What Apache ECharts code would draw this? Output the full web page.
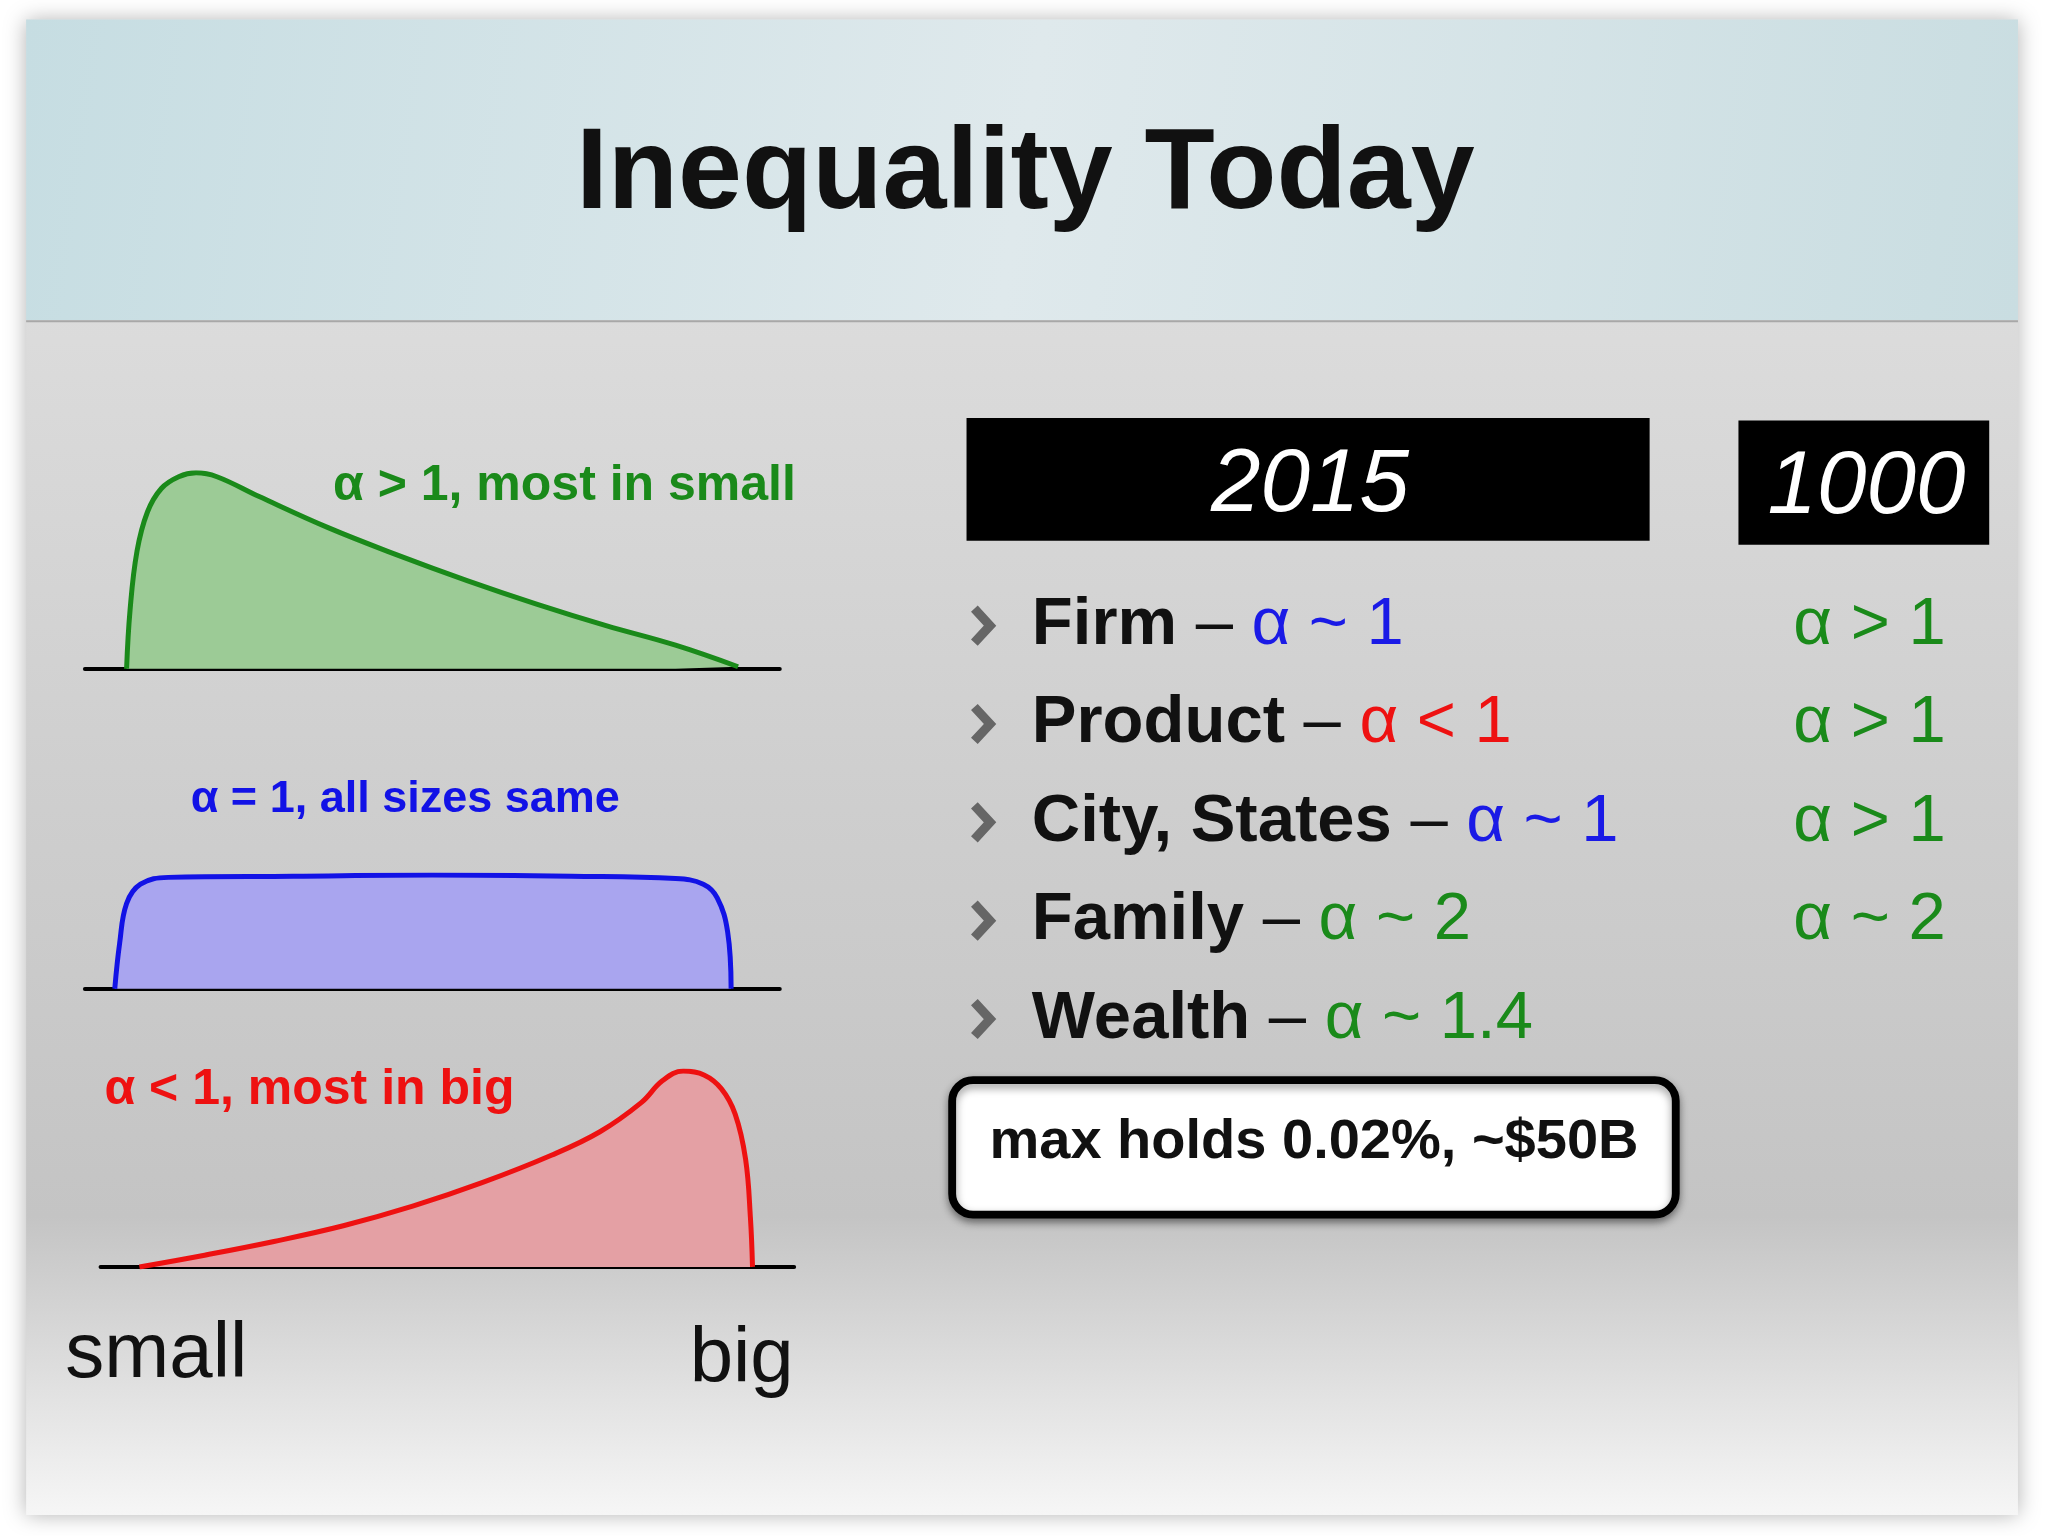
<!DOCTYPE html>
<html><head><meta charset="utf-8">
<script src="https://cdn.jsdelivr.net/npm/echarts@6/dist/echarts.min.js"></script>
<style>html,body{margin:0;padding:0;background:#fff}#c{width:2048px;height:1536px}</style>
</head><body><div id="c"></div>
<script>
const greenCurve=[[6,0],[6.5,30],[7.5,60],[9,80],[11,92],[13.5,98],[16,100],[19,98],[25,88],[35,72],[45,58],[55,45],[65,33],[75,22],[85,12],[94,1]];
const blueCurve=[[4.3,0],[5,40],[6,75],[8,92],[12,98],[30,99],[50,100],[70,99],[85,97],[89,92],[91,80],[92.5,50],[93,0]];
const redCurve=[[5.6,0],[15,6],[25,13],[35,21],[45,31],[55,43],[65,57],[72,69],[78,84],[81,95],[84,100],[87,98],[89.5,91],[91.5,78],[93,55],[93.7,25],[94,0]];
const rowNames=['Firm','Product','City, States','Family','Wealth'];
const rowAlpha2015=['α ~ 1','α < 1','α ~ 1','α ~ 2','α ~ 1.4'];
const rowColors=['#1a1ae6','#ee1111','#1a1ae6','#1a8a1a','#1a8a1a'];
const rowAlpha1000=['α > 1','α > 1','α > 1','α ~ 2'];
const S=2048/1568;
const F='Liberation Sans, Arial, sans-serif';
const ch=echarts.init(document.getElementById('c'));
const grids=[[65,597,362,512],[65,597,670,757],[77,608,820,970]];
const curves=[greenCurve,blueCurve,redCurve];
const lc=['#1a8a1a','#1212e6','#ee1111'],fc=['#9ccb96','#a9a5ef','#e4a0a4'];
const g=[];
g.push({type:'rect',shape:{x:0,y:0,width:2048,height:1536},style:{fill:'#fff'},z:-10});
g.push({type:'rect',shape:{x:20*S,y:15*S,width:1525*S,height:1145*S},style:{fill:new echarts.graphic.LinearGradient(0,0,0,1,[{offset:0,color:'#e4e4e4'},{offset:0.5,color:'#cfcfcf'},{offset:0.8,color:'#c4c4c4'},{offset:1,color:'#f6f6f6'}]),shadowBlur:20,shadowColor:'rgba(0,0,0,0.3)'},z:-9});
g.push({type:'rect',shape:{x:20*S,y:15*S,width:1525*S,height:230*S},style:{fill:new echarts.graphic.LinearGradient(0,0,1,1,[{offset:0,color:'#c6dde2'},{offset:0.5,color:'#dfe9ec'},{offset:1,color:'#c9dde1'}])},z:-8});
g.push({type:'line',shape:{x1:20*S,y1:246*S,x2:1545*S,y2:246*S},style:{stroke:'#a8a8a8',lineWidth:2},z:-7});
g.push({type:'text',x:785*S,y:135*S,style:{text:'Inequality Today',font:'bold '+Math.round(88*S)+'px '+F,fill:'#111',align:'center',verticalAlign:'middle'}});
function t(x,y,text,size,color,bold,align){g.push({type:'text',x:x*S,y:y*S,style:{text:text,font:(bold?'bold ':'')+Math.round(size*S)+'px '+F,fill:color,align:align||'left',verticalAlign:'middle'}});}
t(255,372,'α > 1, most in small',38.5,'#1a8a1a',true);
t(146,612,'α = 1, all sizes same',34.5,'#1212e6',true);
t(80,835,'α < 1, most in big',38.5,'#ee1111',true);
t(50,1038,'small',60,'#111',false);
t(528,1042,'big',60,'#111',false);
g.push({type:'rect',shape:{x:740*S,y:320*S,width:523*S,height:94*S},style:{fill:'#000'}});
g.push({type:'rect',shape:{x:1331*S,y:322*S,width:192*S,height:95*S},style:{fill:'#000'}});
g.push({type:'text',x:1003*S,y:372*S,style:{text:'2015',font:'italic '+Math.round(68*S)+'px '+F,fill:'#fff',align:'center',verticalAlign:'middle'}});
g.push({type:'text',x:1429*S,y:374*S,style:{text:'1000',font:'italic '+Math.round(68*S)+'px '+F,fill:'#fff',align:'center',verticalAlign:'middle'}});
rowNames.forEach((n,i)=>{
  const y=(479+i*75.3)*S;
  g.push({type:'polyline',shape:{points:[[746*S,y-13*S],[758*S,y],[746*S,y+13*S]]},style:{stroke:'#666',lineWidth:7*S,fill:null}});
  g.push({type:'text',x:790*S,y:y,style:{text:'{b|'+n+'}{n| – }{c|'+rowAlpha2015[i]+'}',verticalAlign:'middle',rich:{b:{font:'bold '+Math.round(51*S)+'px '+F,fill:'#111'},n:{font:Math.round(51*S)+'px '+F,fill:'#111'},c:{font:Math.round(51*S)+'px '+F,fill:rowColors[i]}}}});
  if(rowAlpha1000[i]) t(1373,479+i*75.3,rowAlpha1000[i],51,'#1a8a1a',false);
});
g.push({type:'rect',shape:{x:729*S,y:827*S,width:554*S,height:103*S,r:16*S},style:{fill:'#fff',stroke:'#000',lineWidth:6*S,shadowBlur:8,shadowColor:'rgba(0,0,0,0.4)',shadowOffsetY:4}});
t(1006,875,'max holds 0.02%, ~$50B',43,'#111',true,'center');
const opt={animation:false,grid:[],xAxis:[],yAxis:[],series:[],graphic:{elements:g}};
grids.forEach((gr,i)=>{
  opt.grid.push({left:gr[0]*S,width:(gr[1]-gr[0])*S,top:gr[2]*S,height:(gr[3]-gr[2])*S});
  opt.xAxis.push({type:'value',gridIndex:i,min:0,max:100,axisLine:{show:true,onZero:false,lineStyle:{color:'#000',width:4}},axisTick:{show:false},axisLabel:{show:false},splitLine:{show:false}});
  opt.yAxis.push({type:'value',gridIndex:i,min:0,max:100,show:false});
  opt.series.push({type:'line',xAxisIndex:i,yAxisIndex:i,data:curves[i],smooth:0.4,symbol:'none',lineStyle:{color:lc[i],width:5},areaStyle:{color:fc[i],opacity:1},z:1});
});
ch.setOption(opt);
</script></body></html>
